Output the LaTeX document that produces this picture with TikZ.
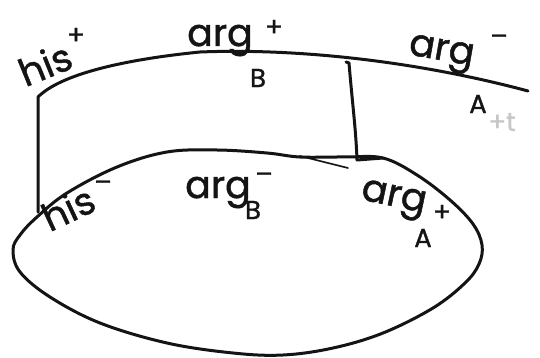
\documentclass[tikz,border=0pt]{standalone}
\usepackage{fontspec}
\setmainfont{Poppins}[FakeBold=1.2]
\begin{document}
\begin{tikzpicture}[x=1pt,y=-1pt,
  ink/.style={line width=3pt,color=black!92,line cap=round,line join=round},
  big/.style={font=\fontsize{38}{38}\selectfont,inner sep=0pt,text=black!92},
  small/.style={font=\fontsize{26}{26}\selectfont,inner sep=0pt,text=black!92}]
\useasboundingbox[fill=white] (0,0) rectangle (540,358);
% top curve and left vertical line
\coordinate (tl) at (38,97);
\coordinate (bl) at (38,212);
\draw[ink] (bl) -- (tl) .. controls (60,75) and (120,60) .. (200,52)
  .. controls (300,48) and (420,62) .. (528,91);
% right vertical line with hook
\coordinate (tr) at (349,63);
\coordinate (br) at (357,160);
\draw[ink] (346,62) -- (tr) .. controls (352,100) and (356,130) .. (br) -- (383,158);
% stray stroke
\draw[ink,line width=1.6pt] (300,156) -- (348,168);
% lower closed shape
\draw[ink] plot[smooth cycle,tension=0.6] coordinates {
 (13,250) (20,235) (37,217) (67,193) (117,167) (167,152) (217,150) (267,153)
 (300,157) (345,157) (383,158) (417,175) (450,200) (473,224) (482,245)
 (479,264) (465,283) (433,308) (383,333) (333,348) (283,355) (233,353)
 (167,343) (100,323) (50,297) (20,272)};
% labels
\node[big,rotate=22] (hisp) at (45,64) {his};
\node[small] (hisps) at (76,36) {+};
\node[big,anchor=base] (argBp) at (220,46) {arg};
\node[small] (argBpp) at (274,28) {+};
\node[small] (argBps) at (258,78) {B};
\node[big,anchor=base,rotate=-10] (argAm) at (440,60) {arg};
\node[small] (argAmp) at (499,40) {–};
\node[small] (argAms) at (478,104) {A};
\node[small,text=black!22] (smudge) at (502,122) {+t};
\node[big,rotate=25] (hism) at (68,208) {his};
\node[small] (hisms) at (103,186) {–};
\node[big,anchor=base] (argBm) at (218,198) {arg};
\node[small] (argBmp) at (264,178) {–};
\node[small] (argBms) at (253,210) {B};
\node[big,anchor=base,rotate=-12] (argAp) at (392,206) {arg};
\node[small] (argApp) at (442,213) {+};
\node[small] (argAps) at (423,238) {A};
\end{tikzpicture}
\end{document}
